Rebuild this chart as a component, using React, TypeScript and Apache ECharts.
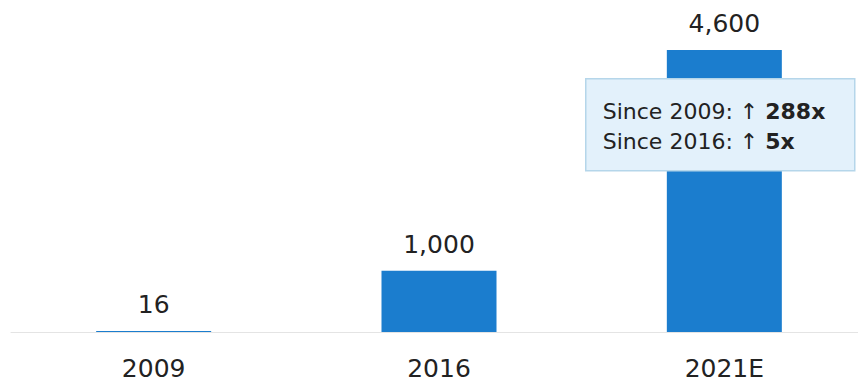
import React, { useEffect, useRef } from "react";
import * as echarts from "echarts";

const categories = ["2009", "2016", "2021E"];
const values = [16, 1000, 4600];
const noteLines = [
  { prefix: "Since 2009: ↑ ", strong: "288x" },
  { prefix: "Since 2016: ↑ ", strong: "5x" },
];

const FONT = "'DejaVu Sans', sans-serif";
const BAR = "#1b7dce";

export default function App() {
  const ref = useRef<HTMLDivElement>(null);
  useEffect(() => {
    document.body.style.margin = "0";
    if (!ref.current) return;
    const chart = echarts.init(ref.current, undefined, { renderer: "svg" });
    chart.setOption({
      animation: false,
      backgroundColor: "#ffffff",
      grid: { left: 11, width: 856, top: 50, bottom: 52, outerBoundsMode: "none", containLabel: false },
      xAxis: {
        type: "category",
        data: categories,
        axisLine: { show: true, lineStyle: { color: "#e4e4e4", width: 1 } },
        axisTick: { show: false },
        axisLabel: {
          margin: 24,
          fontSize: 25,
          fontFamily: FONT,
          color: "#222222",
        },
      },
      yAxis: {
        type: "value",
        min: 0,
        max: 4600,
        show: false,
        splitLine: { show: false },
      },
      series: [
        {
          type: "bar",
          data: values,
          barWidth: 115,
          itemStyle: { color: BAR },
          label: {
            show: true,
            position: "top",
            distance: 14,
            fontSize: 25,
            fontFamily: FONT,
            color: "#222222",
            formatter: (p: any) => Number(p.value).toLocaleString("en-US"),
          },
        },
      ],
      graphic: [
        {
          type: "group",
          left: 585,
          top: 78,
          z: 100,
          children: [
            {
              type: "rect",
              z: 100,
              shape: { x: 0, y: 0, width: 269, height: 92 },
              style: { fill: "#e3f1fb", stroke: "#b5d6ea", lineWidth: 1.5 },
            },
            ...noteLines.map((l, i) => ({
              type: "text",
              z: 101,
              x: 17,
              y: 33 + i * 30,
              style: {
                text: `{a|${l.prefix}}{b|${l.strong}}`,
                verticalAlign: "middle",
                rich: {
                  a: { fontSize: 22, fontFamily: FONT, fill: "#222222" },
                  b: { fontSize: 22, fontFamily: FONT, fill: "#222222", fontWeight: "bold" },
                },
              },
            })),
          ],
        },
      ],
    });
    return () => chart.dispose();
  }, []);
  return <div ref={ref} style={{ width: 858, height: 384 }} />;
}
